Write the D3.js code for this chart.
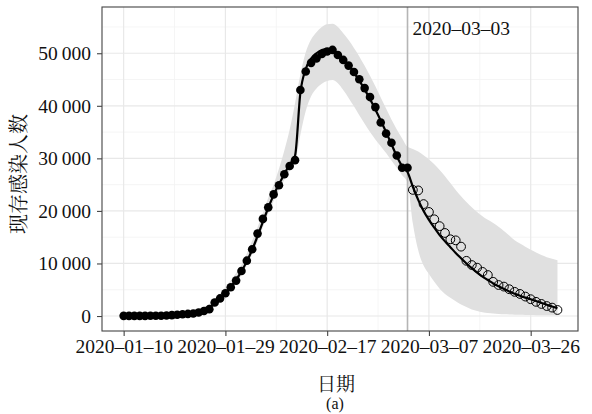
<!DOCTYPE html>
<html>
<head>
<meta charset="utf-8">
<script src="https://cdn.jsdelivr.net/npm/d3@7"></script>
<style>
  body { margin: 0; background: #fff; }
  svg text { font-family: "Liberation Serif", "Times New Roman", serif; fill: #111; }
  .cjk { font-family: "Noto Serif CJK SC", "Noto Sans CJK SC", sans-serif; }
</style>
</head>
<body>
<svg id="chart" width="592" height="414"></svg>
<script>
(function() {
  // first day of every series, and the day where the forecast starts
  var START = '2020-01-10';
  var SPLIT = '2020-03-03';

  // observed cases, 2020-01-10 .. 2020-03-03 (filled dots)
  var observed = [
    35, 35, 35, 35, 35, 40, 45, 60, 100, 170,
    239, 338, 399, 494, 658, 958, 1303, 2567, 3349, 4334, 5486, 6738,
    8565, 10532, 12712, 15679, 18483, 20677, 23139, 24881, 26965, 28532,
    29659, 43000, 46537, 48175, 49030, 49847, 50338, 50633, 49665, 48730,
    47647, 46439, 45044, 43369, 41660, 39755, 36829, 34715, 32959,
    30543, 28216, 28216
  ];

  // held-out cases, 2020-03-04 .. 2020-03-31 (open dots)
  var testing = [
    24000, 23900, 21300, 19800, 18400, 17100, 15800, 14600, 14400, 13200,
    10500, 9700, 9200, 8400, 7800, 6500, 5900, 5600, 5100, 4600,
    4200, 3700, 3200, 2700, 2300, 1900, 1600, 1150
  ];

  // model curve, 2020-01-10 .. 2020-03-31
  var fitted = [
    30, 40, 50, 65, 80, 100, 130, 170, 220, 290,
    370, 460, 570, 700, 880, 1150, 1600, 2350, 3300, 4400, 5600, 6900,
    8500, 10400, 12600, 15200, 17900, 20600, 23000, 25100, 27000, 28900,
    30500, 42500, 47000, 49000, 50000, 50600, 50800, 50600, 49900, 48900,
    47700, 46300, 44800, 43100, 41300, 39300, 37200, 35000, 32700,
    30400, 28500, 27400, 24600, 22100, 20000, 18300, 16800, 15400, 14200,
    13100, 12000, 11000, 10000, 9100, 8250, 7500, 6850, 6200, 5650,
    5150, 4650, 4250, 3850, 3500, 3200, 2850, 2500, 2150, 1800, 1500
  ];

  // uncertainty band, same days
  var lower = [
    0, 0, 10, 20, 30, 40, 60, 80, 110, 150,
    200, 260, 330, 420, 560, 800, 1200, 1900, 2800, 3800, 4900, 6200,
    7800, 9600, 11700, 14200, 16900, 19500, 21900, 24000, 25900, 27700,
    29300, 34500, 39000, 41800, 43300, 44200, 44700, 44900, 44300, 43000,
    41500, 39900, 38200, 36600, 35000, 33600, 32300, 31000, 29600,
    28200, 26800, 25400, 17600, 12500, 9600, 8000, 6500, 5200, 4200,
    3500, 2800, 2200, 1700, 1250, 950, 720, 560, 460, 380,
    320, 280, 250, 220, 200, 180, 160, 150, 140, 130, 120
  ];
  var upper = [
    100, 120, 140, 170, 200, 240, 290, 350, 420, 500,
    600, 720, 870, 1050, 1300, 1700, 2300, 3200, 4300, 5500, 6800, 8200,
    9700, 11900, 14300, 16900, 19600, 22500, 25000, 28000, 31500, 35500,
    40500, 46000, 50200, 52600, 54000, 55000, 55500, 55600, 55000, 53800,
    52500, 51000, 49400, 47600, 45700, 43700, 41600, 39500, 37400,
    35500, 33800, 32200, 31800, 31300, 30600, 29800, 28900, 27800, 26600,
    25300, 24000, 22800, 21700, 20700, 19800, 19000, 18300, 17700, 17000,
    16200, 15300, 14400, 13800, 13200, 12600, 12100, 11600, 11200, 10900, 10600
  ];

  var xTicks = ['2020-01-10', '2020-01-29', '2020-02-17', '2020-03-07', '2020-03-26'];
  var xTickLabels = ['2020\u201301\u201310', '2020\u201301\u201329', '2020\u201302\u201317',
                     '2020\u201303\u201307', '2020\u201303\u201326'];
  var xMinor = ['2020-01-19 12:00', '2020-02-07 12:00', '2020-02-26 12:00', '2020-03-16 12:00'];
  var yTicks = [0, 10000, 20000, 30000, 40000, 50000];
  var yTickLabels = ['0', '10\u2009000', '20\u2009000', '30\u2009000', '40\u2009000', '50\u2009000'];
  var yMinor = [5000, 15000, 25000, 35000, 45000, 55000];

  var parseDay = d3.utcParse('%Y-%m-%d');
  var parseHour = d3.utcParse('%Y-%m-%d %H:%M');
  var day0 = parseDay(START);
  var split = parseDay(SPLIT);
  var dayOf = function(i) { return d3.utcDay.offset(day0, i); };

  var panel = { left: 102, top: 7, right: 578, bottom: 331 };

  var x = d3.scaleUtc()
    .domain([d3.utcHour.offset(day0, -97), d3.utcHour.offset(parseDay('2020-03-26'), 212)])
    .range([panel.left, panel.right]);

  var y = d3.scaleLinear()
    .domain([-2850, 58800])
    .range([panel.bottom, panel.top]);

  var svg = d3.select('#chart');

  svg.append('defs').append('clipPath')
    .attr('id', 'panel-clip')
    .append('rect')
    .attr('x', panel.left)
    .attr('y', panel.top)
    .attr('width', panel.right - panel.left)
    .attr('height', panel.bottom - panel.top);

  // grid
  var grid = svg.append('g');
  grid.selectAll('line.xmin').data(xMinor).enter().append('line')
    .attr('x1', function(d) { return x(parseHour(d)); })
    .attr('x2', function(d) { return x(parseHour(d)); })
    .attr('y1', panel.top).attr('y2', panel.bottom)
    .attr('stroke', '#f2f2f2').attr('stroke-width', 0.8);
  grid.selectAll('line.ymin').data(yMinor).enter().append('line')
    .attr('y1', function(d) { return y(d); })
    .attr('y2', function(d) { return y(d); })
    .attr('x1', panel.left).attr('x2', panel.right)
    .attr('stroke', '#f2f2f2').attr('stroke-width', 0.8);
  grid.selectAll('line.xmaj').data(xTicks).enter().append('line')
    .attr('x1', function(d) { return x(parseDay(d)); })
    .attr('x2', function(d) { return x(parseDay(d)); })
    .attr('y1', panel.top).attr('y2', panel.bottom)
    .attr('stroke', '#e8e8e8').attr('stroke-width', 1.2);
  grid.selectAll('line.ymaj').data(yTicks).enter().append('line')
    .attr('y1', function(d) { return y(d); })
    .attr('y2', function(d) { return y(d); })
    .attr('x1', panel.left).attr('x2', panel.right)
    .attr('stroke', '#e8e8e8').attr('stroke-width', 1.2);

  var plot = svg.append('g').attr('clip-path', 'url(#panel-clip)');

  var band = fitted.map(function(v, i) {
    return { date: dayOf(i), lo: lower[i], hi: upper[i] };
  });

  plot.append('path')
    .datum(band)
    .attr('fill', '#e0e0e0')
    .attr('d', d3.area()
      .x(function(d) { return x(d.date); })
      .y0(function(d) { return y(d.lo); })
      .y1(function(d) { return y(d.hi); })
      .curve(d3.curveMonotoneX));

  plot.append('line')
    .attr('x1', x(split)).attr('x2', x(split))
    .attr('y1', panel.top).attr('y2', panel.bottom)
    .attr('stroke', '#b5b5b5').attr('stroke-width', 1.6);

  plot.append('path')
    .datum(fitted)
    .attr('fill', 'none')
    .attr('stroke', '#000')
    .attr('stroke-width', 2.2)
    .attr('d', d3.line()
      .x(function(d, i) { return x(dayOf(i)); })
      .y(function(d) { return y(d); })
      .curve(d3.curveMonotoneX));

  plot.selectAll('circle.test').data(testing).enter().append('circle')
    .attr('cx', function(d, i) { return x(d3.utcDay.offset(split, i + 1)); })
    .attr('cy', function(d) { return y(d); })
    .attr('r', 4.4)
    .attr('fill', 'none')
    .attr('stroke', '#000')
    .attr('stroke-width', 1);

  plot.selectAll('circle.obs').data(observed).enter().append('circle')
    .attr('cx', function(d, i) { return x(dayOf(i)); })
    .attr('cy', function(d) { return y(d); })
    .attr('r', 4.3)
    .attr('fill', '#000');

  svg.append('text')
    .attr('x', x(split) + 5)
    .attr('y', 35)
    .attr('font-size', 19.5)
    .text('2020\u201303\u201303');

  // panel border
  svg.append('rect')
    .attr('x', panel.left).attr('y', panel.top)
    .attr('width', panel.right - panel.left)
    .attr('height', panel.bottom - panel.top)
    .attr('fill', 'none')
    .attr('stroke', '#444')
    .attr('stroke-width', 1.1);

  // axes
  var xAxis = svg.append('g')
    .attr('transform', 'translate(0,' + panel.bottom + ')')
    .call(d3.axisBottom(x)
      .tickValues(xTicks.map(parseDay))
      .tickFormat(function(d, i) { return xTickLabels[i]; })
      .tickSize(5)
      .tickPadding(3));

  var yAxis = svg.append('g')
    .attr('transform', 'translate(' + panel.left + ',0)')
    .call(d3.axisLeft(y)
      .tickValues(yTicks)
      .tickFormat(function(d, i) { return yTickLabels[i]; })
      .tickSize(5)
      .tickPadding(6));

  [xAxis, yAxis].forEach(function(a) {
    a.select('.domain').remove();
    a.selectAll('line').attr('stroke', '#444').attr('stroke-width', 1.1);
    a.selectAll('text')
      .attr('font-family', '"Liberation Serif", "Times New Roman", serif')
      .attr('font-size', 19.5)
      .attr('fill', '#111');
  });

  // titles
  svg.append('text')
    .attr('class', 'cjk')
    .attr('transform', 'translate(26,174) rotate(-90)')
    .attr('text-anchor', 'middle')
    .attr('font-size', 20)
    .text('现存感染人数');

  svg.append('text')
    .attr('class', 'cjk')
    .attr('x', 336)
    .attr('y', 391)
    .attr('text-anchor', 'middle')
    .attr('font-size', 19)
    .text('日期');

  svg.append('text')
    .attr('x', 335)
    .attr('y', 409)
    .attr('text-anchor', 'middle')
    .attr('font-size', 16)
    .text('(a)');
})();
</script>
</body>
</html>
